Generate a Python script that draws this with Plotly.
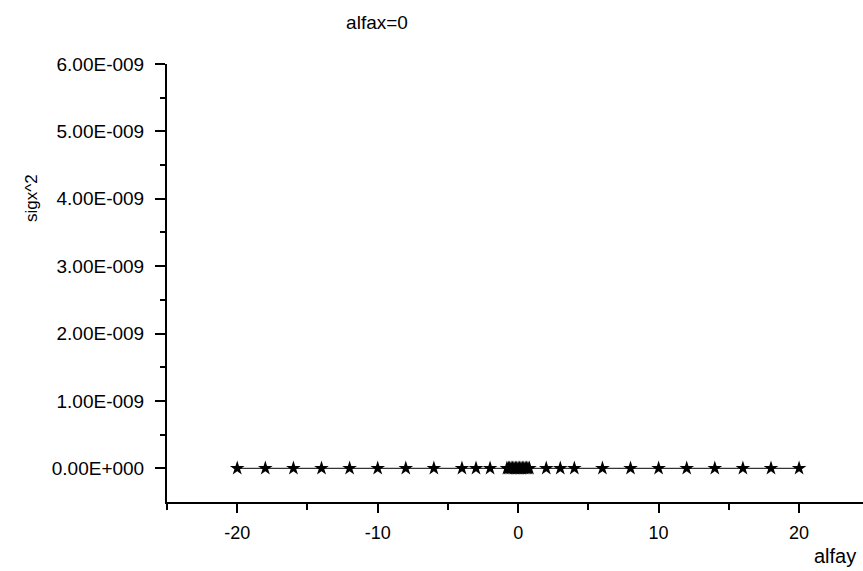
import plotly.graph_objects as go

# Data
alfay = [-20, -18, -16, -14, -12, -10, -8, -6, -4, -3, -2,
         -0.8, -0.7, -0.6, -0.5, -0.4, -0.3, -0.2, -0.1, 0, 0.1, 0.2, 0.3, 0.4, 0.5, 0.6, 0.7, 0.8,
         2, 3, 4, 6, 8, 10, 12, 14, 16, 18, 20]
sigx2 = [0.0] * len(alfay)

y_tickvals = [0, 1e-9, 2e-9, 3e-9, 4e-9, 5e-9, 6e-9]
y_ticktext = ["0.00E+000", "1.00E-009", "2.00E-009", "3.00E-009", "4.00E-009", "5.00E-009", "6.00E-009"]
y_minor = [0.5e-9, 1.5e-9, 2.5e-9, 3.5e-9, 4.5e-9, 5.5e-9]
x_tickvals = [-20, -10, 0, 10, 20]
x_ticktext = ["-20", "-10", "0", "10", "20"]
x_minor = [-25, -15, -5, 5, 15]

FONT = "Liberation Sans, Arial, sans-serif"
W, H = 863, 571
L, R, T, B = 167, 0, 64, 69
AX_BOTTOM = H - B

fig = go.Figure()
fig.add_trace(go.Scatter(
    x=alfay, y=sigx2, mode="lines+markers",
    line=dict(color="black", width=1),
    marker=dict(symbol="star", size=11, color="black"),
    showlegend=False, hoverinfo="x+y",
))

fig.update_layout(
    width=W, height=H,
    margin=dict(l=L, r=R, t=T, b=B, pad=0),
    paper_bgcolor="white", plot_bgcolor="white",
    font=dict(family=FONT, size=18, color="black"),
    title=dict(text="alfax=0", x=377 / W, xanchor="center", xref="container",
               y=1 - 22 / H, yanchor="middle", yref="container",
               font=dict(family=FONT, size=19, color="black")),
    xaxis=dict(
        range=[-25, 24.55], showgrid=False, zeroline=False,
        showline=True, linecolor="black", linewidth=2,
        tickmode="array", tickvals=x_tickvals, ticktext=x_ticktext,
        ticks="outside", ticklen=9, tickwidth=2, tickcolor="black",
        minor=dict(tickmode="array", tickvals=x_minor, ticks="outside",
                   ticklen=6, tickwidth=2, tickcolor="black"),
        tickfont=dict(family=FONT, size=18, color="black"),
        ticklabelstandoff=4,
    ),
    yaxis=dict(
        range=[-0.5e-9, 6e-9], showgrid=False, zeroline=False,
        showline=True, linecolor="black", linewidth=2,
        tickmode="array", tickvals=y_tickvals, ticktext=y_ticktext,
        ticks="outside", ticklen=10, tickwidth=2, tickcolor="black",
        minor=dict(tickmode="array", tickvals=y_minor, ticks="outside",
                   ticklen=5, tickwidth=2, tickcolor="black"),
        tickfont=dict(family=FONT, size=19, color="black"),
        ticklabelstandoff=7,
    ),
    annotations=[
        dict(text="alfay", xref="paper", yref="paper", x=1, y=0,
             xanchor="right", yanchor="middle", xshift=-5, yshift=-(556 - AX_BOTTOM),
             showarrow=False, font=dict(family=FONT, size=20, color="black")),
        dict(text="sigx^2", xref="paper", yref="paper", x=0,
             y=(AX_BOTTOM - 198) / (AX_BOTTOM - T), xanchor="center", yanchor="middle",
             xshift=31 - L, textangle=-90,
             showarrow=False, font=dict(family=FONT, size=17, color="black")),
    ],
)

fig.write_html("out.html")
